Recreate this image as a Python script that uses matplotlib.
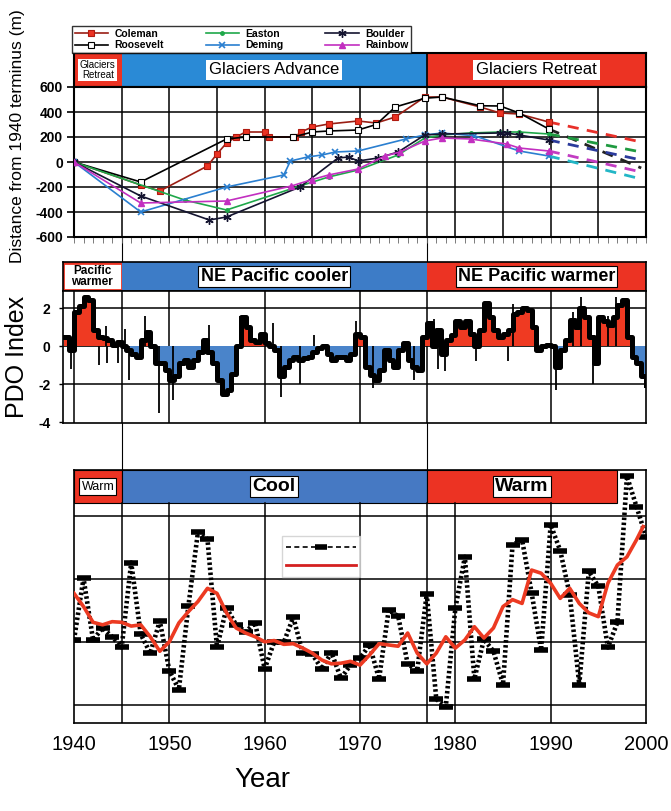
import matplotlib
matplotlib.use("Agg")
import matplotlib.pyplot as plt
from matplotlib.lines import Line2D
from matplotlib.ticker import MultipleLocator
import numpy as np

plt.rcParams['font.family'] = ['Liberation Sans', 'DejaVu Sans']

W, H = 671, 811

# --- glacier terminus change since 1940 (m) ---
coleman_yr = [1940, 1947, 1949, 1954, 1955, 1956, 1957, 1958, 1960, 1960.5, 1963.2, 1963.8, 1965, 1966.7,
              1969.8, 1971.7, 1973.7, 1976.8, 1978.6, 1982.6, 1984.7, 1986.7, 1989.8]
coleman_m = [0, -184, -232, -32, 64, 152, 200, 240, 240, 200, 200, 240, 280, 304,
             328, 312, 360, 520, 520, 440, 392, 384, 320]
roosevelt_yr = [1940, 1947, 1956, 1958, 1963, 1965, 1966.7, 1969.8, 1971.7, 1973.7, 1976.8, 1978.6,
                1982.6, 1984.7, 1986.7, 1989.8]
roosevelt_m = [0, -160, 184, 200, 200, 240, 248, 256, 300, 440, 510, 520, 450, 448, 392, 264]
easton_yr = [1940, 1951.6, 1956, 1963.7, 1966.7, 1969.8, 1974, 1976.8, 1978.6, 1981.6, 1984.7, 1986.7, 1989.8]
easton_m = [0, -304, -384, -192, -120, -64, 56, 192, 216, 232, 240, 240, 224]
deming_yr = [1940, 1947, 1956, 1962, 1962.7, 1964.5, 1966, 1967.4, 1969.8, 1974.8, 1976.8, 1978.6,
             1982, 1986.7, 1989.8]
deming_m = [0, -400, -200, -104, 8, 40, 56, 80, 88, 184, 216, 232, 210, 88, 48]
boulder_yr = [1940, 1947, 1954.2, 1956, 1963.7, 1967.7, 1968.8, 1969.8, 1971.9, 1974, 1976.8, 1978.6,
              1984.7, 1985.4, 1986.7, 1989.8]
boulder_m = [0, -272, -464, -440, -200, 32, 40, 8, 32, 80, 216, 224, 232, 232, 216, 176]
rainbow_yr = [1940, 1947, 1956, 1962.8, 1965, 1966.7, 1969.8, 1972.6, 1974.2, 1976.8, 1978.6, 1981.6,
              1985.4, 1986.7, 1989.8]
rainbow_m = [0, -328, -312, -192, -140, -104, -56, 48, 80, 168, 192, 184, 144, 112, 88]

glacier_names = ['Coleman', 'Roosevelt', 'Easton', 'Deming', 'Boulder', 'Rainbow']
proj_end_yr = 1999.5
proj_end_m = [160, -48, 80, -136, 16, -80]

# --- PDO index (half-year steps) ---
pdo_yr = np.arange(1939.0, 2000.5, 0.5)
pdo = [0.5, -0.2, 1.8, 2.1, 2.6, 2.4, 0.85, 0.5, 0.4, 0.3, 0.05, 0.2, 0.0, -0.2, -0.4, -0.55,
       0.3, 0.75, 0.0, -0.9, -0.9, -1.25, -1.8, -1.6, -0.9, -0.75, -1.1, -0.75, -0.3, 0.3,
       -0.3, -0.9, -1.8, -2.5, -2.3, -1.45, 0.0, 1.55, 1.0, 0.3, 0.2, 0.65, 0.15, 0.0, -0.2,
       -1.6, -1.1, -0.75, -0.55, -0.75, -0.65, -0.55, -0.3, -0.1, 0.0, -0.4, -0.75, -0.55,
       -0.55, -0.75, -0.4, 0.65, 0.5, -1.1, -1.5, -1.8, -1.25, -0.2, -0.75, -1.1, -0.2, 0.15,
       -0.75, -1.1, -1.25, 0.5, 1.2, 0.0, 0.85, -0.4, 0.3, 0.6, 1.3, 1.0, 1.3, 0.65, 0.0, 0.85,
       2.25, 1.55, 0.85, 0.5, 0.65, 0.85, 1.7, 1.8, 2.0, 1.9, 1.0, -0.2, 0.0, 0.05, 0.0, -1.1,
       -0.2, 0.3, 1.35, 1.0, 2.0, 1.55, 0.5, -0.9, 1.55, 1.3, 1.1, 1.55, 2.15, 2.4, 0.5, -0.55,
       -0.9, -1.6, -2.05]
spike_yr = [1939.7, 1942.6, 1943.4, 1943.5, 1944.6, 1945.4, 1945.8, 1947.4, 1948.9, 1950.4, 1954.2,
            1957.4, 1960.9, 1961.7, 1963.7, 1965.2, 1969.6, 1971.4, 1975.7, 1977.8, 1978.2, 1978.9,
            1982.2, 1985.5, 1986.0, 1990.6, 1992.3, 1993.2, 1994.4, 1996.0, 1996.9]
spike_val = [-1.2, -1.0, 1.05, -0.9, -0.9, 0.9, -1.8, 1.6, -3.5, -2.85, 1.1,
             1.6, 1.2, -2.7, -2.0, 0.6, 1.3, -2.2, -1.8, 1.4, -1.2, -1.3,
             -0.8, -0.8, 2.2, -2.3, 1.8, 2.6, -2.0, 1.6, 2.6]

# --- bottom panel: annual series and smoothed curve ---
ann_yr = list(range(1940, 2001))
ann_val = [0.03, 1.01, 0.03, 0.22, 0.08, -0.09, 1.26, 0.12, -0.18, 0.33,
           -0.46, -0.76, 0.57, 1.74, 1.63, -0.09, 0.54, 0.27, 0.16, 0.30,
           -0.43, 0.0, -0.01, 0.39, -0.18, -0.20, -0.43, -0.17, -0.58, -0.37,
           -0.26, -0.05, -0.59, 0.50, 0.41, -0.35, -0.46, 0.76, -0.91, -1.03,
           0.53, 1.35, -0.59, 0.04, -0.15, -0.68, 1.54, 1.62, 0.78, -0.13,
           1.86, 1.45, 0.75, -0.68, 1.12, 0.88, -0.09, 0.31, 2.63, 2.15, 1.67]
smooth_yr = list(range(1940, 2000)) + [1999.7]
smooth_val = [0.77, 0.56, 0.31, 0.27, 0.32, 0.31, 0.25, 0.27, 0.08, -0.15,
              0.0, 0.30, 0.48, 0.64, 0.85, 0.77, 0.46, 0.22, 0.14, 0.08,
              0.0, 0.02, -0.04, -0.03, -0.10, -0.18, -0.29, -0.35, -0.34, -0.31,
              -0.37, -0.21, -0.03, -0.05, -0.07, 0.14, -0.18, -0.35, -0.18, 0.08,
              -0.10, 0.03, 0.24, 0.06, 0.22, 0.56, 0.67, 0.61, 1.14, 1.09,
              0.93, 0.69, 0.85, 0.61, 0.46, 0.40, 0.93, 1.22, 1.35, 1.62, 1.83]

# regime periods
top_regimes = [(1940, 1945, 'Glaciers\nRetreat'), (1945, 1977, 'Glaciers Advance'), (1977, 2000, 'Glaciers Retreat')]
mid_regimes = [(1945, 1977, 'NE Pacific cooler'), (1977, 2000, 'NE Pacific warmer')]
bot_regimes = [(1940, 1945, 'Warm'), (1945, 1977, 'Cool'), (1977, 1997, 'Warm')]
shift_years = [1945, 1977]

RED = '#ec3323'
BLUE_TOP = '#2a8ad6'
BLUE_MID = '#3d7cc7'
BLUE_BOT = '#4679c3'


def box(l, t, r, b):
    return [l / W, 1 - b / H, (r - l) / W, (b - t) / H]


fig = plt.figure(figsize=(W / 100, H / 100), dpi=100)

# connecting regime-shift lines between panels
axc = fig.add_axes(box(74, 237, 646, 470))
axc.set_xlim(1940, 2000)
axc.axis('off')
for yr in shift_years:
    axc.axvline(yr, color='black', lw=0.8)

# ---------------- top panel ----------------
ax1h = fig.add_axes(box(74, 53, 646, 87))
ax1h.set_xlim(1940, 2000)
ax1h.set_ylim(0, 1)
ax1h.set_xticks([])
ax1h.set_yticks([])
for i, (a, b, lab) in enumerate(top_regimes):
    col = BLUE_TOP if 'Advance' in lab else RED
    ax1h.axvspan(a, b, color=col, lw=0)
    fs = 7 if i == 0 else 12
    ax1h.text((a + b) / 2, 0.5, lab, ha='center', va='center', fontsize=fs, linespacing=0.9,
              bbox=dict(facecolor='white', edgecolor='none', pad=1.2 if i == 0 else 2))
ax1h.axvline(1977, color='black', lw=1.2)
for s in ax1h.spines.values():
    s.set_linewidth(1.5)

ax1 = fig.add_axes(box(74, 87, 646, 237))
ax1.set_xlim(1940, 2000)
ax1.set_ylim(-600, 600)
for yr in [1945, 1950, 1955, 1960, 1965, 1970, 1977, 1980, 1985, 1990, 1995]:
    ax1.axvline(yr, color='black', lw=1.1, zorder=1)
for v in [-400, -200, 0, 200, 400]:
    ax1.axhline(v, color='black', lw=1.1, zorder=1)

styles = {
    'Coleman': dict(color='#9a1e14', marker='s', ms=5, mfc=RED, mec='#b01a10', mew=0.8),
    'Roosevelt': dict(color='black', marker='s', ms=5, mfc='white', mec='black', mew=0.8),
    'Easton': dict(color='#1fa84a', marker='o', ms=2.5, mfc='#1fa84a', mec='#1fa84a'),
    'Deming': dict(color='#2a7fd0', marker='x', ms=5, mew=1.2),
    'Boulder': dict(color='#141430', marker=(6, 2, 0), ms=6, mew=1.0),
    'Rainbow': dict(color='#c22fc0', marker='^', ms=4, mfc='#c22fc0', mec='#c22fc0'),
}
proj_colors = ['#e8302a', '#222222', '#1f9a40', '#22b6c6', '#2b3b9c', '#c23cc2']
series = [(coleman_yr, coleman_m), (roosevelt_yr, roosevelt_m), (easton_yr, easton_m),
          (deming_yr, deming_m), (boulder_yr, boulder_m), (rainbow_yr, rainbow_m)]
handles = []
for name, (yr, m), pc, end in zip(glacier_names, series, proj_colors, proj_end_m):
    h, = ax1.plot(yr, m, lw=1.2, label=name, zorder=3, **styles[name])
    handles.append(h)
    ax1.plot([yr[-1], proj_end_yr], [m[-1], end], color=pc, lw=2, dashes=(4, 3), zorder=2)

ax1.set_yticks([-600, -400, -200, 0, 200, 400, 600])
ax1.set_yticklabels(['-600', '-400', '-200', '0', '200', '400', '600'], fontsize=10, fontweight='bold')
ax1.tick_params(axis='y', direction='out', length=5, width=1.2, pad=3)
ax1.set_xticks([])
ax1.xaxis.set_minor_locator(MultipleLocator(1))
ax1.tick_params(axis='x', which='minor', direction='out', length=4, width=0.6, color='#666666')
for s in ax1.spines.values():
    s.set_linewidth(1.5)
ax1.set_ylabel('Distance from 1940 terminus (m)', fontsize=12.5)
ax1.yaxis.set_label_coords(-0.085, 0.67)

fig.legend(handles, glacier_names, ncol=3, loc='lower left',
           bbox_to_anchor=(72 / W, 1 - 53 / H, 339 / W, 29 / H), mode='expand',
           prop=dict(weight='bold', size=7.5), frameon=True, fancybox=False,
           edgecolor='black', borderaxespad=0, handlelength=3.2, labelspacing=0.15,
           borderpad=0.25, handletextpad=0.6)

# ---------------- middle panel ----------------
x0_mid = 1940 - (74 - 63) / 9.533
ax2h = fig.add_axes(box(63, 262, 646, 291))
ax2h.set_xlim(x0_mid, 2000)
ax2h.set_ylim(0, 1)
ax2h.set_xticks([])
ax2h.set_yticks([])
ax2h.axvspan(x0_mid, 1945, ymin=0.04, ymax=0.96, facecolor='white', edgecolor=RED, lw=2)
ax2h.text((x0_mid + 1945) / 2, 0.5, 'Pacific\nwarmer', ha='center', va='center', fontsize=8.5,
          fontweight='bold', linespacing=0.95)
for a, b, lab in mid_regimes:
    col = BLUE_MID if 'cooler' in lab else RED
    ax2h.axvspan(a, b, color=col, lw=0)
    ax2h.text((a + b) / 2, 0.5, lab, ha='center', va='center', fontsize=13, fontweight='bold',
              bbox=dict(facecolor='white', edgecolor='black', lw=0.8, pad=1.5))
for s in ax2h.spines.values():
    s.set_linewidth(1.2)

ax2 = fig.add_axes(box(63, 291, 646, 423))
ax2.set_xlim(x0_mid, 2000)
ax2.set_ylim(-4.05, 2.9)
pdo_arr = np.array(pdo)
ax2.fill_between(pdo_yr, np.clip(pdo_arr, 0, None), 0, step='post', color='#ef3a22', lw=0, zorder=2)
ax2.fill_between(pdo_yr, np.clip(pdo_arr, None, 0), 0, step='post', color='#4a84ca', lw=0, zorder=2)
ax2.vlines(spike_yr, 0, spike_val, color='black', lw=1.3, zorder=3)
ax2.step(pdo_yr, pdo_arr, where='post', color='black', lw=3.6, zorder=4)
for yr in [1940, 1945, 1950, 1960, 1970, 1977, 1990]:
    ax2.axvline(yr, color='black', lw=1.1, zorder=1)
for v in [-2, 2]:
    ax2.axhline(v, color='black', lw=1.1, zorder=1)
ax2.axhline(0, color='black', lw=0.6, zorder=1)
ax2.set_yticks([-4, -2, 0, 2])
ax2.set_yticklabels(['-4', '-2', '0', '2'], fontsize=10, fontweight='bold')
ax2.tick_params(axis='y', direction='out', length=3, width=1, pad=6)
ax2.set_xticks([])
for s in ax2.spines.values():
    s.set_linewidth(1.2)
ax2.set_ylabel('PDO Index', fontsize=18)
ax2.yaxis.set_label_coords(-0.058, 0.5)

# ---------------- bottom panel ----------------
ax3 = fig.add_axes(box(74, 470, 646, 723))
ax3.set_xlim(1940, 2000)
ax3.set_ylim(-1.29, 2.73)
hb = (723 - 503) / (723 - 470)
for i, (a, b, lab) in enumerate(bot_regimes):
    col = BLUE_BOT if lab == 'Cool' else RED
    ax3.axvspan(a, b, ymin=hb, ymax=1, facecolor=col, edgecolor='black', lw=0.8, zorder=1)
    ax3.text((a + b) / 2, (1 + hb) / 2, lab, transform=ax3.get_xaxis_transform(),
             ha='center', va='center', fontsize=9 if i == 0 else 14, fontweight='normal' if i == 0 else 'bold',
             bbox=dict(facecolor='white', edgecolor='black', lw=0.8, pad=1.5), zorder=2)
for yr in [1945, 1950, 1960, 1970, 1977, 1980, 1990]:
    ax3.axvline(yr, ymax=hb, color='black', lw=1.1, zorder=1)
for v in [-1, 0, 1, 2]:
    ax3.axhline(v, color='black', lw=1.1, zorder=1)
ax3.plot(ann_yr, ann_val, color='black', lw=3.3, dashes=(0.55, 0.55), marker='_', ms=10, mew=4,
         zorder=3)
ax3.plot(smooth_yr, smooth_val, color='#ec3a22', lw=2.6, zorder=4)
leg_h = [Line2D([0], [0], color='black', lw=1.2, dashes=(3, 2), marker='_', ms=9, mew=4),
         Line2D([0], [0], color='#d42020', lw=2)]
ax3.legend(leg_h, ['', ''], loc='upper left', bbox_to_anchor=(0.352, 0.765), frameon=True,
           fancybox=False, edgecolor='#cccccc', handlelength=5, handletextpad=0, borderpad=0.3,
           labelspacing=0.3, numpoints=1, markerscale=1)
ax3.set_yticks([])
ax3.set_xticks([1940, 1950, 1960, 1970, 1980, 1990, 2000])
ax3.set_xticklabels(['1940', '1950', '1960', '1970', '1980', '1990', '2000'], fontsize=14.5)
ax3.tick_params(axis='x', length=0, pad=9)
for s in ax3.spines.values():
    s.set_linewidth(1.2)
ax3.set_xlabel('Year', fontsize=20)
ax3.xaxis.set_label_coords(0.33, -0.175)

fig.savefig('out.png', dpi=100)
